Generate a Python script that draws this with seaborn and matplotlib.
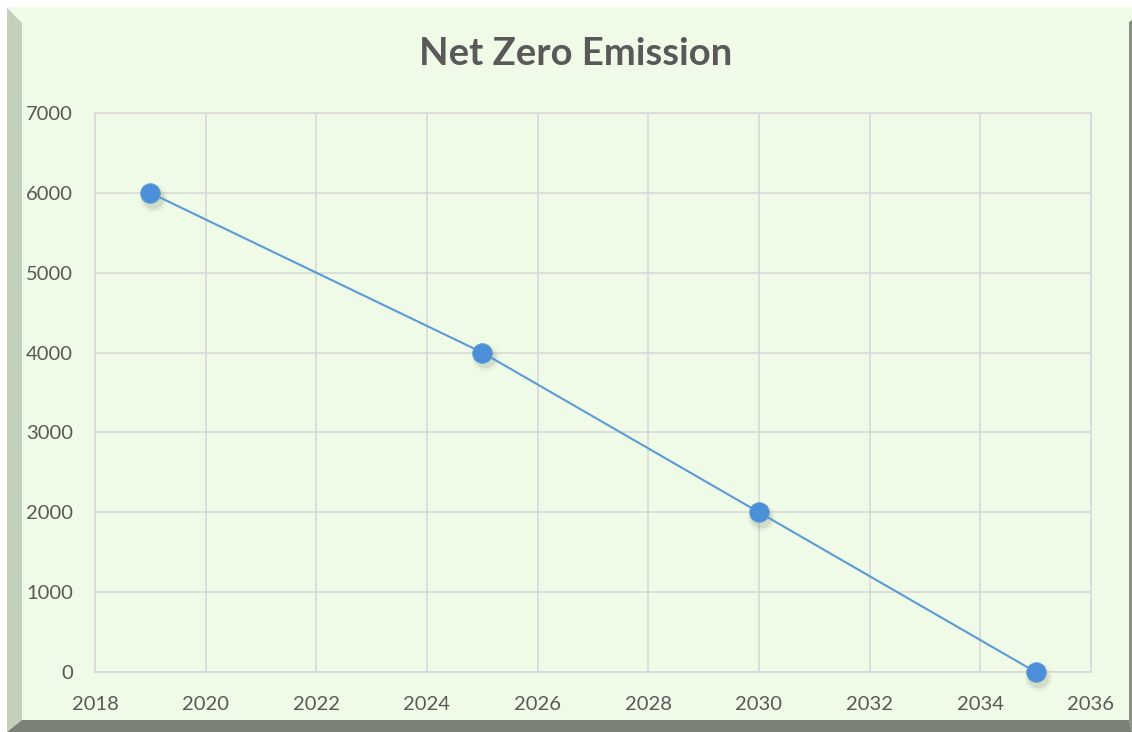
import matplotlib
matplotlib.use("Agg")
import matplotlib.pyplot as plt
import seaborn as sns
import pandas as pd
from matplotlib.patches import Polygon

years = [2019, 2025, 2030, 2035]
emissions = [6000, 4000, 2000, 0]
x_ticks = [2018, 2020, 2022, 2024, 2026, 2028, 2030, 2032, 2034, 2036]
y_ticks = [0, 1000, 2000, 3000, 4000, 5000, 6000, 7000]
title = "Net Zero Emission"

df = pd.DataFrame({"year": years, "emission": emissions})

sns.set_theme(style="whitegrid")
plt.rcParams['font.family'] = ['Lato', 'DejaVu Sans']

W, H = 1132, 732
fig = plt.figure(figsize=(W / 100, H / 100), dpi=100)
fig.patch.set_facecolor("white")

def px(x, y):
    return (x / W, 1 - y / H)

def poly(pts, color):
    fig.patches.append(Polygon([px(*p) for p in pts], closed=True, transform=fig.transFigure,
                               facecolor=color, edgecolor="none", zorder=-1))

poly([(7, 7), (1132, 7), (1132, 732), (7, 732)], "#effbe6")
poly([(7, 8), (22, 23), (22, 720), (7, 732)], "#c3d0bb")
poly([(7, 732), (22, 720), (1129, 720), (1132, 732)], "#7b8174")
poly([(1129, 22), (1132, 20), (1132, 732), (1129, 720)], "#8a9083")

ax = fig.add_axes([95 / W, 1 - 672 / H, (1091 - 95) / W, (672 - 113) / H])
ax.set_zorder(5)
ax.set_facecolor("none")

# soft marker shadow
for ms, a in [(20, 0.06), (17, 0.08), (15, 0.1)]:
    ax.plot(df["year"] + 0.04, df["emission"] - 60, linestyle="none", marker="o", markersize=ms,
            color="#6f7a68", alpha=a, markeredgewidth=0, zorder=2, clip_on=False)
sns.lineplot(data=df, x="year", y="emission", ax=ax, color="#5b9bd5", linewidth=1.5,
             marker="o", markersize=14, markerfacecolor="#4a8fd8", markeredgecolor="#5b9bd5",
             zorder=3, clip_on=False)

ax.set_xlim(2018, 2036)
ax.set_ylim(0, 7000)
ax.set_xticks(x_ticks)
ax.set_yticks(y_ticks)
ax.set_xlabel("")
ax.set_ylabel("")
ax.grid(True, color="#d9d9d9", linewidth=1.2)
for s in ax.spines.values():
    s.set_visible(True)
    s.set_color("#d9d9d9")
    s.set_linewidth(1.2)
ax.tick_params(axis="both", colors="#595959", labelsize=14.5, length=0)
ax.tick_params(axis="x", pad=17)
ax.tick_params(axis="y", pad=16)

fig.text(576 / W, 1 - 54 / H, title, ha="center", va="center", fontsize=27.5,
         fontweight="bold", color="#595959")

fig.savefig("out.png", dpi=100, facecolor=fig.get_facecolor())
